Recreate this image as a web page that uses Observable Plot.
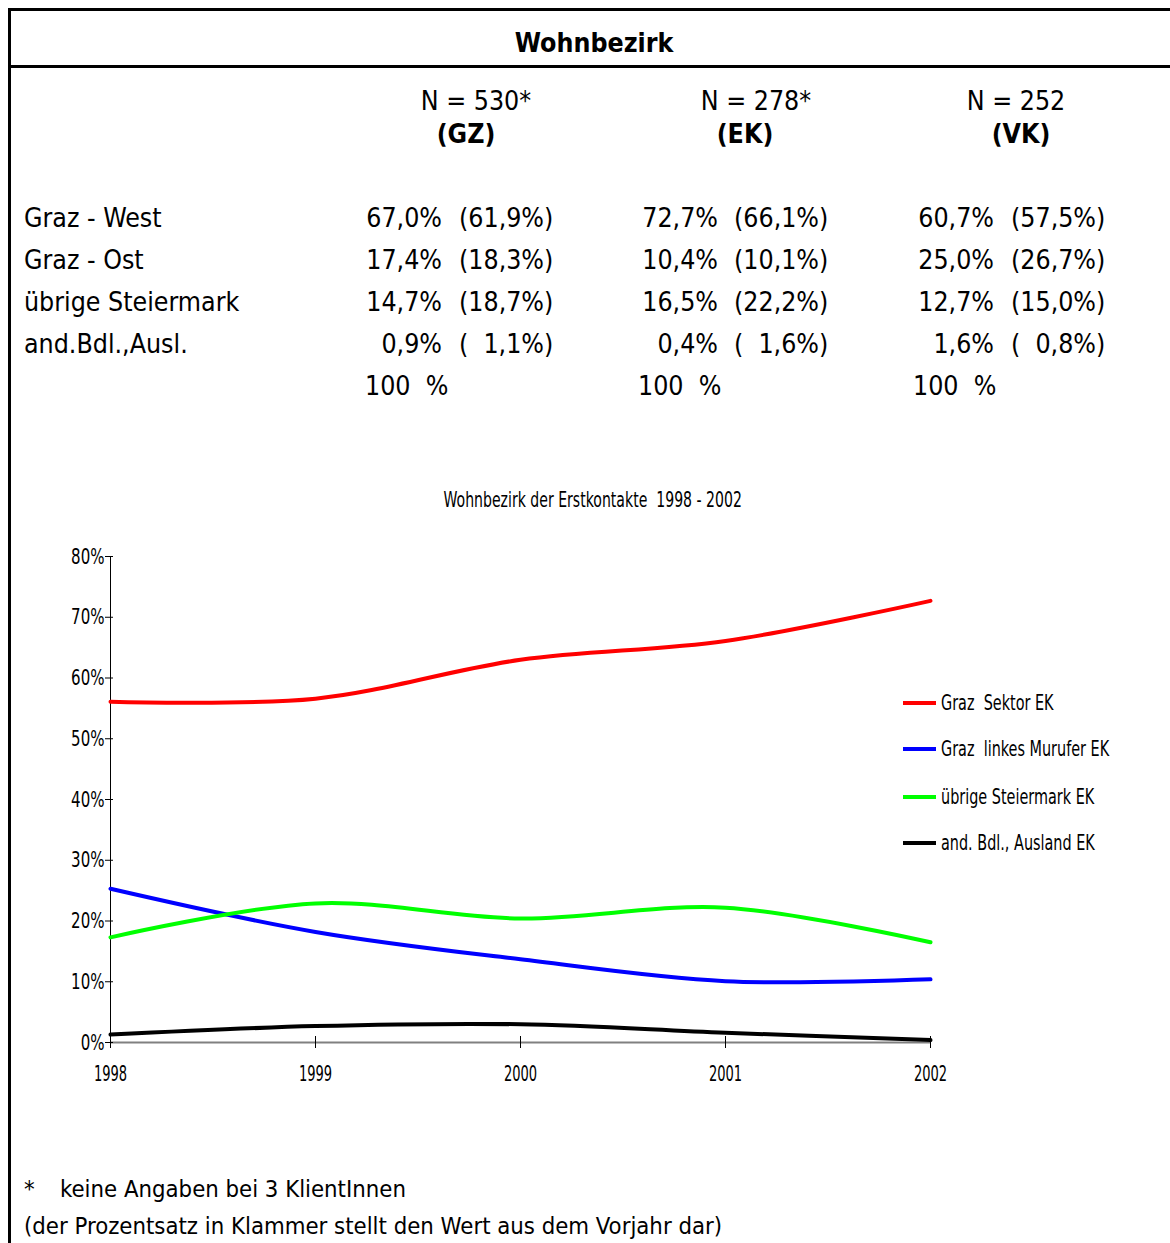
<!DOCTYPE html>
<html><head><meta charset="utf-8">
<script src="https://cdn.jsdelivr.net/npm/d3@7"></script>
<script src="https://cdn.jsdelivr.net/npm/@observablehq/plot@0.6"></script>
<style>
html,body{margin:0;padding:0;background:#fff;}
#page{position:relative;width:1170px;height:1243px;overflow:hidden;background:#fff;font-family:"DejaVu Sans Condensed","DejaVu Sans",sans-serif;font-stretch:condensed;color:#000;}
.t{position:absolute;white-space:pre;}
.rule{position:absolute;background:#000;}
.sq{display:inline-block;transform:scaleX(0.67);font-family:"DejaVu Sans",sans-serif;font-stretch:normal;}
#chart{position:absolute;left:0;top:470px;}
</style></head><body><div id="page"></div>
<script>
// ---------- table data ----------
const pageTitle = "Wohnbezirk";
const groupCodes = ["GZ", "EK", "VK"];
const groupN = [530, 278, 252];
const groupNote = ["*", "*", ""];
const regionLabels = ["Graz - West", "Graz - Ost", "übrige Steiermark", "and.Bdl.,Ausl."];
const gzShare = [67.0, 17.4, 14.7, 0.9];
const gzPrev = [61.9, 18.3, 18.7, 1.1];
const ekShare = [72.7, 10.4, 16.5, 0.4];
const ekPrev = [66.1, 10.1, 22.2, 1.6];
const vkShare = [60.7, 25.0, 12.7, 1.6];
const vkPrev = [57.5, 26.7, 15.0, 0.8];
const totalLabel = "100  %";
const footnote1Star = "*";
const footnote1 = "keine Angaben bei 3 KlientInnen";
const footnote2 = "(der Prozentsatz in Klammer stellt den Wert aus dem Vorjahr dar)";

// ---------- chart data ----------
const chartTitle = "Wohnbezirk der Erstkontakte  1998 - 2002";
const years = [1998, 1999, 2000, 2001, 2002];
const grazSektor = [56.1, 56.6, 63.0, 66.1, 72.7];
const grazLinkesMurufer = [25.3, 18.2, 13.7, 10.1, 10.4];
const uebrigeSteiermark = [17.3, 22.9, 20.4, 22.2, 16.5];
const andBdlAusland = [1.3, 2.7, 3.0, 1.6, 0.4];
const seriesNames = ["Graz  Sektor EK", "Graz  linkes Murufer EK", "übrige Steiermark EK", "and. Bdl., Ausland EK"];
const seriesColors = ["#ff0000", "#0000ff", "#00ff00", "#000000"];
const yTicks = [0, 10, 20, 30, 40, 50, 60, 70, 80];

// ---------- page layout ----------
const page = document.getElementById("page");
function rule(l, t, w, h) {
  const d = document.createElement("div");
  d.className = "rule";
  Object.assign(d.style, {left: l + "px", top: t + "px", width: w + "px", height: h + "px"});
  page.appendChild(d);
}
function put(str, x, yc, opt = {}) {
  const size = opt.size || 26.5;
  const d = document.createElement("div");
  d.className = "t";
  const h = Math.round(size * 1.4);
  d.style.fontSize = size + "px";
  d.style.lineHeight = h + "px";
  d.style.top = (yc - h / 2) + "px";
  if (opt.bold) d.style.fontWeight = "bold";
  if (opt.align === "right") { d.style.right = (1170 - x) + "px"; d.style.textAlign = "right"; }
  else if (opt.align === "center") { d.style.left = (x - 400) + "px"; d.style.width = "800px"; d.style.textAlign = "center"; }
  else d.style.left = x + "px";
  if (opt.squeeze) {
    const s = document.createElement("span");
    s.className = "sq";
    s.style.transformOrigin = opt.align === "center" ? "center center" : "left center";
    s.textContent = str;
    d.appendChild(s);
  } else d.textContent = str;
  page.appendChild(d);
  return d;
}
const fmt = v => v.toFixed(1).replace(".", ",") + "%";
const fmtPrev = v => "(" + (v < 10 ? "  " : "") + fmt(v) + ")";

rule(8, 8, 1162, 3);
rule(8, 65, 1162, 3);
rule(8, 8, 3, 1235);

put(pageTitle, 594, 42, {bold: true, align: "center"});

const nCenter = [476, 756, 1016];
const codeCenter = [466, 745, 1021];
groupCodes.forEach((c, i) => {
  put("N = " + groupN[i] + groupNote[i], nCenter[i], 100, {align: "center"});
  put("(" + c + ")", codeCenter[i], 133, {align: "center", bold: true});
});

const rowY = [217, 259, 301, 343];
const shares = [gzShare, ekShare, vkShare];
const prevs = [gzPrev, ekPrev, vkPrev];
const valueRight = [442, 718, 994];
const prevLeft = [459, 734, 1011];
const totalLeft = [365, 638, 913];
regionLabels.forEach((r, j) => {
  put(r, 24, rowY[j]);
  shares.forEach((s, i) => {
    put(fmt(s[j]), valueRight[i], rowY[j], {align: "right"});
    put(fmtPrev(prevs[i][j]), prevLeft[i], rowY[j]);
  });
});
totalLeft.forEach(x => put(totalLabel, x, 385));

put(footnote1Star, 24, 1189, {size: 23.7});
put(footnote1, 60, 1189, {size: 23.7});
put(footnote2, 24, 1226, {size: 23.7});

// chart title
put(chartTitle, 593, 500, {size: 21, align: "center", squeeze: true});

// ---------- chart ----------
const data = [];
const seriesValues = [grazSektor, grazLinkesMurufer, uebrigeSteiermark, andBdlAusland];
seriesNames.forEach((name, k) => {
  years.forEach((y, i) => data.push({year: y, value: seriesValues[k][i], series: name}));
});

const chart = Plot.plot({
  width: 1170,
  height: 640,
  marginLeft: 110,
  marginRight: 240,
  marginTop: 86,
  marginBottom: 68,
  style: {fontFamily: "DejaVu Sans", fontSize: "22px", background: "transparent", color: "#000"},
  x: {domain: [1998, 2002], label: null},
  y: {domain: [0, 80], label: null},
  color: {domain: seriesNames, range: seriesColors},
  marks: [
    Plot.ruleY([0], {stroke: "#808080", strokeWidth: 2}),
    Plot.ruleX([years[0]], {stroke: "#000", strokeWidth: 1}),
    Plot.axisY({ticks: yTicks, tickSize: 8, dx: 3, tickFormat: () => "", stroke: "#000"}),
    Plot.axisY({ticks: yTicks, tickSize: 0, tickPadding: 6, tickFormat: d => d + "%", fill: "#000"}),
    Plot.axisX({ticks: years, tickSize: 12, dy: -6, tickFormat: () => "", stroke: "#000"}),
    Plot.axisX({ticks: years, tickSize: 0, tickPadding: 23, tickFormat: d => String(d), fill: "#000"}),
    Plot.line(data, {x: "year", y: "value", z: "series", stroke: "series", strokeWidth: 4, curve: "catmull-rom"})
  ]
});
chart.id = "chart";
// condense the axis labels horizontally around their anchor
chart.querySelectorAll("text").forEach(t => {
  const g = t.parentNode;
  const isY = g && (g.getAttribute("aria-label") || "").startsWith("y-axis");
  const tr = t.getAttribute("transform") || "";
  t.setAttribute("transform", (tr + (isY ? " scale(0.76,1)" : " scale(0.66,1)")).trim());
});
page.appendChild(chart);

// legend (HTML, coloured through the chart's color scale)
const legendY = [703, 749, 797, 843];
const colorScale = chart.scale("color");
seriesNames.forEach((name, k) => {
  const sw = document.createElement("div");
  sw.className = "rule";
  Object.assign(sw.style, {left: "903px", top: (legendY[k] - 2) + "px", width: "33px", height: "4px", background: colorScale.apply(name)});
  page.appendChild(sw);
  put(name, 941, legendY[k], {size: 21.5, squeeze: true});
});
</script></body></html>
